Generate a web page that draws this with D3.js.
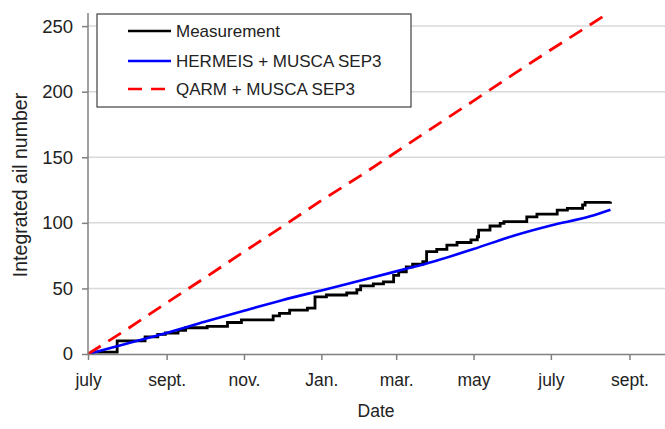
<!DOCTYPE html>
<html>
<head>
<meta charset="utf-8">
<script src="https://cdn.jsdelivr.net/npm/d3@7"></script>
<style>
  body { margin: 0; background: #fff; }
  svg { display: block; font-family: "Liberation Sans", Arial, sans-serif; }
</style>
</head>
<body>
<div id="chart"></div>
<script>
// measurement (step curve), dates + integrated number
var measDates = ["2008-07-03","2008-07-24","2008-08-15","2008-08-25","2008-08-31","2008-09-10","2008-09-16",
  "2008-10-03","2008-10-19","2008-10-30","2008-11-24","2008-11-29","2008-12-07","2008-12-21","2008-12-27",
  "2009-01-05","2009-01-21","2009-01-29","2009-02-01","2009-02-11","2009-02-19","2009-02-27","2009-03-03",
  "2009-03-09","2009-03-14","2009-03-22","2009-03-25","2009-04-02","2009-04-10","2009-04-18","2009-04-29",
  "2009-05-04","2009-05-05","2009-05-14","2009-05-22","2009-05-25","2009-06-12","2009-06-20","2009-07-06",
  "2009-07-14","2009-07-26","2009-07-28","2009-08-17"];
var measValues = [1.5, 10, 13, 15, 16, 18, 20,
  21, 24, 26, 29, 31, 33.5, 35, 43.5,
  45, 46.5, 49, 52, 53.5, 55, 60, 62.7,
  66.5, 68.6, 70.4, 78, 79.8, 83, 85, 87,
  89.4, 94.5, 97.6, 99.6, 101, 104.6, 106.7, 109.7,
  111, 113.6, 115.6, 116];

// model curves, monthly
var modelDates = ["2008-07-01","2008-08-01","2008-09-01","2008-10-01","2008-11-01","2008-12-01",
  "2009-01-01","2009-02-01","2009-03-01","2009-04-01","2009-05-01","2009-06-01","2009-07-01",
  "2009-08-01","2009-08-17"];
var hermeisValues = [0, 8, 16, 24.5, 33, 41, 48.5, 56, 63, 71, 80, 90, 98, 105, 110];
var qarmValues = [0, 19, 39, 58, 78, 97, 117, 136, 154, 174, 193, 213, 232, 251, 261];

var tickDates = ["2008-07-01","2008-09-01","2008-11-01","2009-01-01","2009-03-01","2009-05-01","2009-07-01","2009-09-01"];
var tickLabels = ["july","sept.","nov.","Jan.","mar.","may","july","sept."];
var yTicks = [0, 50, 100, 150, 200, 250];

var seriesNames = ["Measurement", "HERMEIS + MUSCA SEP3", "QARM + MUSCA SEP3"];
var seriesColors = ["#000000", "#0000ff", "#ff0000"];

var width = 665, height = 429;
var margin = {top: 13, right: 0, bottom: 75, left: 88};

var parse = d3.timeParse("%Y-%m-%d");

var x = d3.scaleTime()
  .domain([parse("2008-07-01"), parse("2009-09-29")])
  .range([margin.left, width - margin.right]);

var y = d3.scaleLinear()
  .domain([0, 260])
  .range([height - margin.bottom, margin.top]);

var svg = d3.select("#chart").append("svg")
  .attr("width", width)
  .attr("height", height);

svg.append("rect").attr("width", width).attr("height", height).attr("fill", "#fff");

// gridlines
svg.append("g")
  .selectAll("line").data(yTicks.filter(function(d) { return d > 0; }))
  .enter().append("line")
    .attr("x1", margin.left).attr("x2", width)
    .attr("y1", function(d) { return y(d); })
    .attr("y2", function(d) { return y(d); })
    .attr("stroke", "#d9d9d9")
    .attr("stroke-width", 1.5);

svg.append("clipPath").attr("id", "clip")
  .append("rect")
    .attr("x", margin.left).attr("y", margin.top)
    .attr("width", width - margin.left).attr("height", y(0) - margin.top);

var plot = svg.append("g").attr("clip-path", "url(#clip)");

var line = d3.line()
  .x(function(d) { return x(d[0]); })
  .y(function(d) { return y(d[1]); });

var qarm = modelDates.map(function(d, i) { return [parse(d), qarmValues[i]]; });
var hermeis = modelDates.map(function(d, i) { return [parse(d), hermeisValues[i]]; });
var meas = measDates.map(function(d, i) { return [parse(d), measValues[i]]; });

plot.append("path")
  .attr("d", line.curve(d3.curveStepAfter)(meas))
  .attr("fill", "none")
  .attr("stroke", seriesColors[0])
  .attr("stroke-width", 2.8);

plot.append("path")
  .attr("d", line.curve(d3.curveMonotoneX)(hermeis))
  .attr("fill", "none")
  .attr("stroke", seriesColors[1])
  .attr("stroke-width", 2.6);

plot.append("path")
  .attr("d", line.curve(d3.curveLinear)(qarm))
  .attr("fill", "none")
  .attr("stroke", seriesColors[2])
  .attr("stroke-width", 2.8)
  .attr("stroke-dasharray", "15,9");

// axes
var xAxis = d3.axisBottom(x)
  .tickValues(tickDates.map(parse))
  .tickFormat(function(d, i) { return tickLabels[i]; })
  .tickSizeInner(6)
  .tickSizeOuter(0)
  .tickPadding(14);

var yAxis = d3.axisLeft(y)
  .tickValues(yTicks)
  .tickSizeInner(6)
  .tickSizeOuter(0)
  .tickPadding(9);

var gx = svg.append("g")
  .attr("transform", "translate(0," + y(0) + ")")
  .call(xAxis);

var gy = svg.append("g")
  .attr("transform", "translate(" + margin.left + ",0)")
  .call(yAxis);

[gx, gy].forEach(function(g) {
  g.select(".domain").attr("stroke", "#808080").attr("stroke-width", 1.5);
  g.selectAll(".tick line").attr("stroke", "#808080").attr("stroke-width", 1.5);
  g.selectAll(".tick text")
    .attr("fill", "#222")
    .style("font-size", "17.5px")
    .style("font-family", "'Liberation Sans', Arial, sans-serif");
});
gy.selectAll(".tick text").style("font-size", "18.5px");
gy.select(".domain").attr("d", "M0," + y(0) + "V" + margin.top);

// axis titles
svg.append("text")
  .attr("x", 376).attr("y", 417)
  .attr("text-anchor", "middle")
  .attr("fill", "#222")
  .style("font-size", "17.5px")
  .text("Date");

svg.append("text")
  .attr("transform", "translate(27,185) rotate(-90)")
  .attr("text-anchor", "middle")
  .attr("fill", "#222")
  .style("font-size", "19.5px")
  .text("Integrated ail number");

// legend
var legend = svg.append("g");
legend.append("rect")
  .attr("x", 97).attr("y", 14)
  .attr("width", 314).attr("height", 93)
  .attr("fill", "#fff")
  .attr("stroke", "#404040")
  .attr("stroke-width", 1.2);

var rowY = [31, 61, 89];
seriesNames.forEach(function(name, i) {
  legend.append("line")
    .attr("x1", 128).attr("x2", 171)
    .attr("y1", rowY[i]).attr("y2", rowY[i])
    .attr("stroke", seriesColors[i])
    .attr("stroke-width", 2.6)
    .attr("stroke-dasharray", i == 2 ? "14,9" : null);
  legend.append("text")
    .attr("x", 176).attr("y", rowY[i])
    .attr("dy", "0.35em")
    .attr("fill", "#222")
    .style("font-size", "17px")
    .text(name);
});
</script>
</body>
</html>
